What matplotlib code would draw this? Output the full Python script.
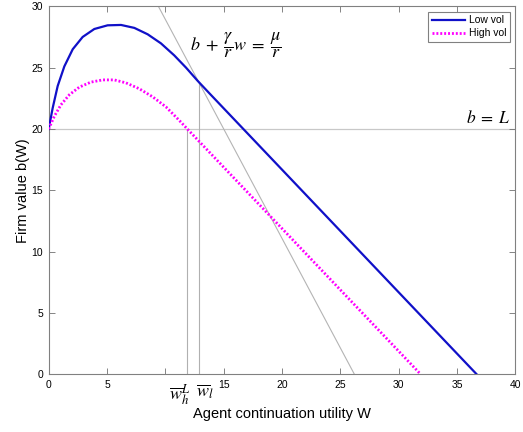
import matplotlib.pyplot as plt

plt.rcParams['font.family'] = ['Liberation Sans', 'DejaVu Sans']
plt.rcParams['mathtext.fontset'] = 'stix'

# firm value b(W) under low and high volatility
w_low = [0.0, 0.34, 0.77, 1.34, 2.06, 2.91, 3.91, 5.05, 6.2, 7.34, 8.48, 9.62,
         10.76, 11.77, 12.77, 13.8, 15.54, 20.0, 25.0, 30.0, 36.68]
b_low = [20.0, 21.7, 23.5, 25.1, 26.5, 27.5, 28.15, 28.45, 28.48, 28.24, 27.72,
         26.98, 26.0, 25.0, 23.92, 22.88, 21.14, 16.68, 11.68, 6.68, 0.0]

w_high = [0.0, 0.48, 1.05, 1.77, 2.62, 3.62, 4.63, 5.62, 6.62, 7.76, 8.91, 10.05,
          11.19, 11.88, 15.0, 20.0, 25.0, 31.88]
b_high = [20.0, 21.03, 21.97, 22.79, 23.41, 23.82, 24.0, 24.0, 23.76, 23.28,
          22.62, 21.8, 20.7, 20.0, 16.88, 11.88, 6.88, 0.0]

# b + (gamma/r) w = mu/r
line_w = [9.4, 26.2]
line_b = [30.0, 0.0]

L = 20.0
w_bar_h = 11.85
w_bar_l = 12.86
b_at_w_bar_l = 23.8

fig = plt.figure(figsize=(5.23, 4.32), dpi=100)
ax = fig.add_axes([0.0931, 0.1336, 0.8924, 0.8518])

ax.axhline(L, color='#c8c8c8', lw=0.9, zorder=1)
ax.plot(line_w, line_b, color='#b4b4b4', lw=0.8, zorder=1)
ax.plot([w_bar_h, w_bar_h], [0, L], color='#b0b0b0', lw=0.8, zorder=1)
ax.plot([w_bar_l, w_bar_l], [0, b_at_w_bar_l], color='#b0b0b0', lw=0.8, zorder=1)

ax.plot(w_low, b_low, color='#1010c8', lw=1.6, label='Low vol', zorder=3)
ax.plot(w_high, b_high, color='#ff00ff', lw=2.0, linestyle=(0, (0.7, 0.7)),
        label='High vol', zorder=3)

ax.set_xlim(0, 40)
ax.set_ylim(0, 30)
ax.set_xticks(range(0, 41, 5))
ax.set_xticklabels(['0', '5', '', '15', '20', '25', '30', '35', '40'])
ax.set_yticks(range(0, 31, 5))
ax.tick_params(direction='in', top=True, right=True, length=4, width=0.6,
               color='#707070', labelsize=7.5, pad=4)
for s in ax.spines.values():
    s.set_color('#808080')
    s.set_linewidth(0.8)

ax.text(w_bar_h + 0.3, -0.6, r'$\overline{w}_h^L$', ha='right', va='top', fontsize=13)
ax.text(w_bar_l - 0.25, -0.6, r'$\overline{w}_l$', ha='left', va='top', fontsize=13)

ax.text(12.1, 26.8, r'$b\;+\;\dfrac{\gamma}{r}w\;=\;\dfrac{\mu}{r}$', ha='left',
        va='center', fontsize=13)
ax.text(39.6, 20.9, r'$b\;=\;L$', ha='right', va='center', fontsize=12.5)

ax.set_xlabel('Agent continuation utility W', fontsize=10.5, labelpad=12)
ax.set_ylabel('Firm value b(W)', fontsize=10.5, labelpad=1)

leg = ax.legend(loc='upper right', fontsize=7.5, fancybox=False, framealpha=1,
                edgecolor='#808080', borderaxespad=0.5, handlelength=3.2,
                handletextpad=0.4, borderpad=0.35, labelspacing=0.3)
leg.get_frame().set_linewidth(0.8)

fig.savefig('out.png', dpi=100)
plt.close(fig)
